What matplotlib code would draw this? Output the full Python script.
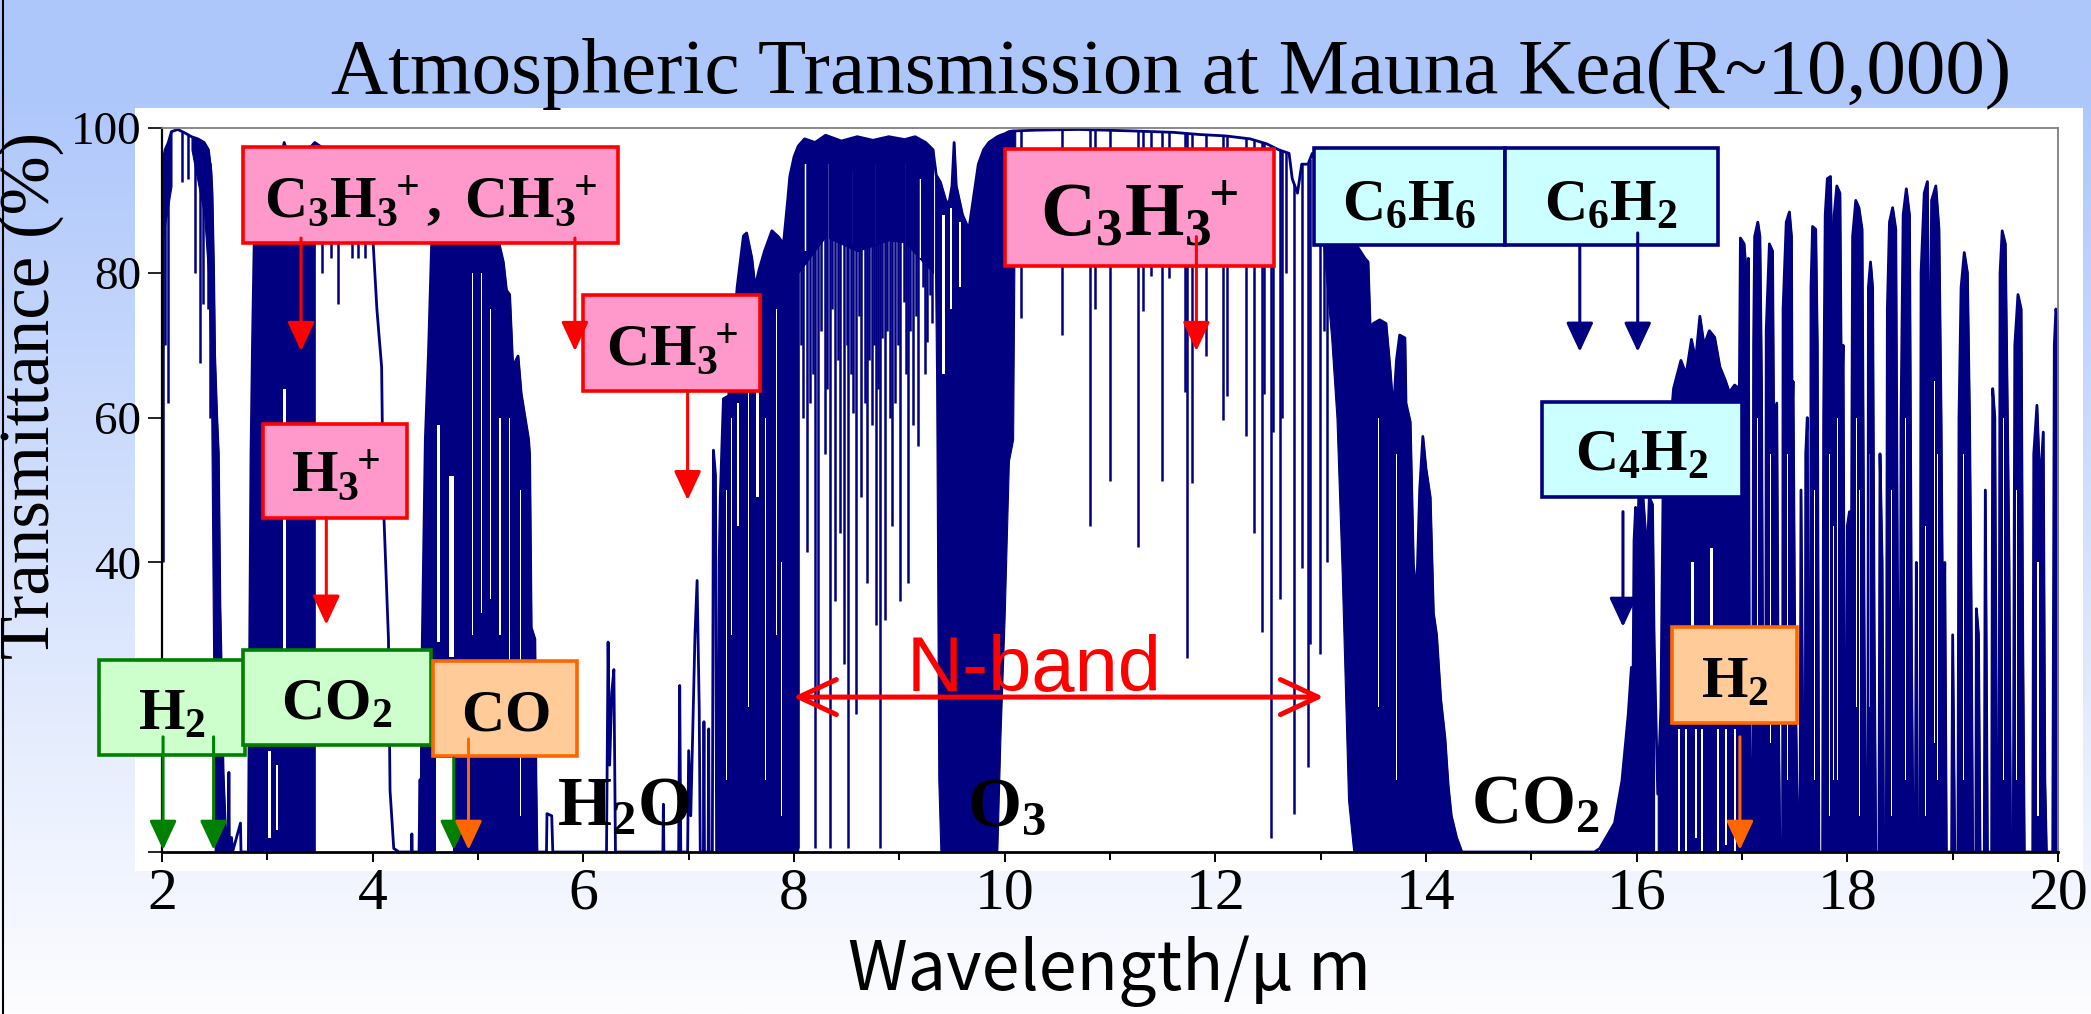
import numpy as np
import matplotlib
matplotlib.use('Agg')
import matplotlib.pyplot as plt
from matplotlib.patches import Rectangle, FancyArrowPatch
from matplotlib.lines import Line2D

plt.rcParams['font.family'] = ['Liberation Serif', 'DejaVu Serif']
plt.rcParams['mathtext.fontset'] = 'custom'
plt.rcParams['mathtext.rm'] = 'Liberation Serif'
plt.rcParams['mathtext.it'] = 'Liberation Serif:italic'
plt.rcParams['mathtext.bf'] = 'Liberation Serif:bold'

NAVY = '#000080'

# ---------------- spectrum silhouette: (wavelength um, transmittance %) ----------------
trans_2_to_2p8 = [(2.000, 50), (2.004, 95), (2.03, 97), (2.06, 98), (2.09, 99.5), (2.15, 99.8),
                  (2.22, 99.3), (2.28, 98.8), (2.34, 98.5), (2.40, 98), (2.44, 97), (2.465, 94),
                  (2.475, 91), (2.49, 80), (2.50, 68.5), (2.52, 60), (2.535, 55), (2.55, 34),
                  (2.57, 20), (2.58, 11), (2.60, 4), (2.615, 0.5), (2.63, 0), (2.635, 11),
                  (2.64, 0), (2.66, 2), (2.67, 0), (2.745, 4), (2.75, 0), (2.82, 0)]
trans_2p8_to_4p5 = [(2.83, 23), (2.845, 55), (2.86, 71), (2.875, 84), (2.92, 90), (3.0, 92),
                    (3.1, 94), (3.16, 98), (3.2, 96), (3.3, 96.5), (3.42, 97.5), (3.45, 98),
                    (3.55, 97), (3.65, 96), (3.75, 95), (3.85, 92), (3.95, 88), (4.005, 84),
                    (4.04, 75), (4.085, 67), (4.10, 49), (4.15, 29.4), (4.165, 8.5), (4.20, 0.5),
                    (4.25, 0), (4.37, 0), (4.372, 2.5), (4.375, 0), (4.44, 0), (4.45, 10), (4.455, 0)]
trans_4p5_to_7p3 = [(4.46, 0), (4.465, 23), (4.48, 38), (4.50, 57), (4.53, 69), (4.56, 84),
                    (4.65, 88), (4.8, 90), (5.0, 89), (5.1, 86), (5.2, 84), (5.24, 81.5),
                    (5.27, 77.6), (5.30, 77), (5.33, 67), (5.38, 68.5), (5.41, 63.3), (5.48, 57),
                    (5.49, 54.8), (5.505, 31), (5.54, 29.4), (5.55, 10), (5.56, 0), (5.65, 0),
                    (5.655, 5.3), (5.70, 5), (5.71, 0), (6.22, 0), (6.235, 29), (6.25, 12),
                    (6.27, 22), (6.29, 25.2), (6.305, 0), (6.755, 0), (6.76, 6.6), (6.765, 0),
                    (6.905, 0), (6.915, 23), (6.925, 0), (6.99, 0), (7.0, 14), (7.02, 5),
                    (7.06, 30), (7.08, 37.5), (7.10, 20), (7.11, 0), (7.14, 0), (7.145, 18),
                    (7.15, 0), (7.185, 0), (7.19, 17), (7.195, 0), (7.225, 0), (7.235, 55.5),
                    (7.255, 52), (7.265, 0)]
trans_7p3_to_10p1 = [(7.28, 0), (7.29, 40), (7.30, 49), (7.33, 62.6), (7.38, 63), (7.42, 70),
                     (7.46, 78), (7.52, 85.1), (7.55, 85.5), (7.60, 82), (7.63, 78), (7.67, 80.5),
                     (7.72, 83), (7.79, 85.8), (7.85, 85), (7.90, 84), (7.94, 90), (7.96, 93.3),
                     (8.0, 96), (8.04, 97.5), (8.1, 98.5), (8.2, 98), (8.3, 99), (8.45, 98.2),
                     (8.6, 98.8), (8.75, 98.3), (8.9, 98.8), (9.05, 98.4), (9.15, 98.8), (9.25, 98),
                     (9.32, 97), (9.34, 94.6), (9.35, 93.5), (9.37, 93), (9.39, 92.5), (9.40, 92),
                     (9.44, 90), (9.47, 89.5), (9.50, 92), (9.52, 98), (9.54, 92), (9.60, 88),
                     (9.66, 86), (9.70, 90), (9.75, 95), (9.80, 97), (9.85, 98), (9.93, 98.8),
                     (9.96, 99), (10.0, 99.2), (10.04, 99.5), (10.08, 99.6), (10.10, 99.6)]
trans_10p1_to_13 = [(10.3, 99.7), (10.7, 99.8), (11.2, 99.6), (11.6, 99.4), (11.85, 99.1),
                    (12.1, 98.9), (12.33, 98.5), (12.49, 97.8), (12.6, 97), (12.7, 96.5),
                    (12.73, 93), (12.78, 91), (12.82, 95), (12.88, 95), (12.92, 96.5), (12.96, 95)]
trans_13_to_16p2 = [(13.0, 92), (13.1, 88), (13.15, 87), (13.2, 86), (13.23, 85.5), (13.26, 85),
                    (13.31, 84.5), (13.42, 82), (13.45, 81.5), (13.47, 72.4), (13.5, 73),
                    (13.56, 73.5), (13.62, 73), (13.66, 66.5), (13.69, 60.7), (13.72, 68),
                    (13.75, 71.4), (13.80, 71), (13.81, 62), (13.85, 59.4), (13.88, 39.8),
                    (13.91, 35), (13.94, 50), (13.97, 57.4), (14.0, 52.9), (14.04, 49), (14.07, 33),
                    (14.10, 30), (14.14, 21), (14.18, 15.7), (14.21, 9.2), (14.24, 5), (14.29, 2),
                    (14.34, 0), (15.60, 0), (15.65, 0.5), (15.71, 2), (15.79, 4), (15.86, 9.8),
                    (15.89, 14.4), (15.92, 19), (15.95, 25.5), (15.965, 22), (15.975, 43),
                    (15.99, 47.6), (16.0, 40), (16.02, 49), (16.06, 49), (16.08, 45), (16.10, 40),
                    (16.12, 49), (16.15, 48), (16.165, 30), (16.2, 8)]
trans_16p2_to_17 = [(16.23, 20), (16.25, 49), (16.30, 55), (16.35, 64), (16.42, 67.9), (16.47, 66),
                    (16.52, 70.8), (16.56, 68), (16.60, 74), (16.64, 70), (16.69, 72),
                    (16.74, 71.1), (16.79, 67), (16.84, 65.2), (16.88, 63.5), (16.93, 64.5),
                    (16.975, 64), (16.985, 84.8), (17.02, 84), (17.04, 80)]
trans_17_to_20 = [(17.05, 40), (17.06, 82), (17.07, 20), (17.085, 0), (17.10, 0), (17.11, 70),
                  (17.12, 85), (17.15, 87), (17.17, 85), (17.185, 65), (17.195, 30), (17.21, 0),
                  (17.225, 0), (17.23, 72), (17.26, 84), (17.29, 83), (17.30, 60), (17.33, 62),
                  (17.345, 20), (17.36, 0), (17.385, 0), (17.39, 75), (17.42, 87), (17.45, 88.4),
                  (17.47, 85), (17.475, 60), (17.485, 65), (17.50, 30), (17.52, 10), (17.535, 0),
                  (17.55, 0), (17.56, 50), (17.585, 0), (17.60, 0), (17.605, 55), (17.62, 60),
                  (17.635, 0), (17.65, 0), (17.655, 78), (17.67, 86.4), (17.70, 86), (17.715, 70),
                  (17.73, 0), (17.765, 0), (17.775, 60), (17.79, 88), (17.81, 93), (17.84, 93.3),
                  (17.86, 75), (17.875, 88), (17.90, 92), (17.93, 91), (17.945, 60), (17.96, 70),
                  (17.975, 5), (17.99, 0), (18.0, 45), (18.02, 47), (18.04, 45), (18.05, 85),
                  (18.08, 90), (18.11, 89), (18.14, 86), (18.16, 30), (18.175, 0), (18.195, 0),
                  (18.20, 78), (18.22, 81.5), (18.24, 78), (18.255, 30), (18.27, 0), (18.30, 0),
                  (18.31, 55), (18.33, 40), (18.345, 0), (18.37, 0), (18.38, 75), (18.40, 87),
                  (18.43, 89), (18.46, 86), (18.475, 40), (18.49, 15.7), (18.50, 0), (18.51, 60),
                  (18.53, 88), (18.56, 91.6), (18.59, 88), (18.61, 26), (18.625, 0), (18.645, 0),
                  (18.655, 40), (18.665, 0), (18.69, 0), (18.70, 80), (18.73, 91), (18.76, 92.6),
                  (18.78, 53), (18.80, 90), (18.84, 92), (18.87, 86), (18.89, 60), (18.91, 21),
                  (18.925, 40), (18.94, 0), (18.99, 0), (19.0, 30), (19.02, 0), (19.05, 0),
                  (19.06, 60), (19.08, 78), (19.11, 82.8), (19.14, 80), (19.16, 60), (19.175, 35),
                  (19.19, 0), (19.22, 0), (19.225, 33.6), (19.245, 30), (19.26, 0), (19.30, 0),
                  (19.31, 50), (19.33, 0), (19.37, 0), (19.38, 64), (19.40, 60), (19.42, 0),
                  (19.44, 0), (19.45, 80), (19.47, 85.8), (19.50, 84), (19.52, 60), (19.535, 40),
                  (19.55, 0), (19.575, 0), (19.59, 70), (19.62, 77), (19.65, 75), (19.665, 30),
                  (19.68, 0), (19.76, 0), (19.77, 55), (19.80, 61.7), (19.83, 50), (19.86, 58),
                  (19.875, 10), (19.89, 0), (19.95, 0), (19.965, 70), (19.98, 75), (20.0, 73)]

# dense (solid) absorption regions: start, end, lower-floor knots
band_start = [2.0, 2.28, 2.83, 4.46, 7.28, 8.04, 9.33, 13.0, 15.65, 16.2, 17.04]
band_end = [2.09, 2.62, 3.45, 5.56, 8.04, 9.32, 10.10, 14.34, 16.165, 17.04, 20.0]
band_floor_wl = [[2.0, 2.09], [2.28, 2.40, 2.46, 2.50, 2.62], [2.83, 3.45], [4.46, 5.56],
                 [7.28, 8.04], [8.04, 8.3, 8.6, 9.0, 9.32],
                 [9.33, 9.35, 9.37, 9.39, 9.93, 9.96, 10.0, 10.04, 10.08, 10.10],
                 [13.0, 13.1, 13.15, 13.2, 13.23, 13.26, 13.31, 14.34], [15.65, 16.165],
                 [16.2, 17.04], [17.04, 20.0]]
band_floor_T = [[84, 92], [97, 88, 75, 0, 0], [0, 0], [0, 0], [0, 0], [80, 85, 83, 85, 80],
                [94, 64.6, 10, 0, 0, 16, 32.6, 54, 57, 97],
                [88, 71, 60, 38.5, 22.9, 7.2, 0, 0], [0, 0], [0, 0], [0, 0]]

# transparent slits inside dense regions
gap_wl = [3.165, 3.02, 3.09, 4.625, 4.75, 4.68, 4.95, 5.03, 5.12, 5.21, 5.30, 5.40,
          7.36, 7.41, 7.47, 7.57, 7.655, 7.73, 7.83, 7.88,
          9.42, 9.49, 9.58, 8.11, 8.32, 8.55, 8.78, 9.05, 9.2,
          13.55, 13.72,
          16.53, 16.71, 16.40, 16.47, 16.56, 16.62, 16.77, 16.85, 16.93,
          17.15, 17.27, 17.43, 17.685, 17.83, 17.87, 17.91, 18.09, 18.12, 18.21, 18.42, 18.55,
          18.74, 18.83, 18.86, 19.10, 19.48, 19.61, 19.81]
gap_w = [0.03, 0.025, 0.02, 0.035, 0.05, 0.16, 0.01, 0.012, 0.01, 0.015, 0.01, 0.01,
         0.01, 0.01, 0.02, 0.01, 0.03, 0.01, 0.01, 0.01,
         0.03, 0.02, 0.02, 0.025, 0.02, 0.02, 0.02, 0.02, 0.02,
         0.008, 0.008,
         0.03, 0.02, 0.02, 0.02, 0.02, 0.015, 0.02, 0.02, 0.02,
         0.012, 0.01, 0.012, 0.01, 0.012, 0.01, 0.012, 0.012, 0.01, 0.01, 0.012, 0.012,
         0.012, 0.012, 0.01, 0.012, 0.012, 0.01, 0.01]
gap_lo = [28, 2, 3, 29, 27, 0, 30, 33, 35, 30, 20, 5,
          10, 30, 45, 20, 49, 10, 30, 5,
          66, 75, 78, 83, 84, 84, 84, 84, 82,
          20, 10,
          31, 31, 0, 0, 2, 0, 0, 1, 0,
          20, 15, 10, 10, 5, 10, 10, 20, 5, 20, 5, 10,
          5, 15, 10, 10, 10, 10, 5]
gap_hi = [64, 14, 12, 59, 52, 13, 80, 80, 75, 60, 60, 50,
          50, 60, 62, 70, 77, 60, 75, 40,
          88, 89, 87, 95, 95, 94, 95, 95, 93,
          60, 55,
          40, 42, 17, 17, 17, 17, 17, 17, 17,
          60, 55, 55, 50, 55, 45, 60, 60, 50, 55, 50, 60,
          45, 65, 55, 55, 60, 50, 40]

# individual absorption lines: wavelength and minimum transmittance
line_wl = [2.01, 2.03, 2.06, 2.19, 2.25, 2.31, 2.36, 2.39, 2.44, 2.455,
           3.52, 3.60, 3.67, 3.80, 3.86, 3.93,
           8.0, 8.04, 8.07, 8.09, 8.12, 8.15, 8.18, 8.20, 8.23, 8.26, 8.29, 8.31, 8.34, 8.36,
           8.39, 8.42, 8.44, 8.47, 8.50, 8.515, 8.54, 8.56, 8.59, 8.62, 8.64, 8.67, 8.69, 8.71,
           8.74, 8.76, 8.78, 8.80, 8.82, 8.84, 8.86, 8.88, 8.91, 8.93, 8.96, 8.99, 9.01, 9.04,
           9.06, 9.08, 9.10, 9.13, 9.16, 9.18, 9.22, 9.24, 9.26, 9.29, 9.31,
           10.154, 10.54, 10.81, 10.86, 11.0, 11.27, 11.315, 11.39, 11.49, 11.56, 11.71, 11.73,
           11.78, 11.91, 12.07, 12.11, 12.29, 12.37, 12.44, 12.46, 12.53, 12.55, 12.61, 12.63,
           12.67, 12.75, 12.82, 12.88, 12.90, 12.99, 13.03, 13.06]
line_T = [40, 70, 62, 92.6, 93, 80, 67.5, 75.7, 75, 60,
          80, 82, 75.7, 82, 82, 82,
          35, 0.5, 70, 60, 41.5, 62, 66, 0.5, 20, 72, 55, 64, 0.5, 75,
          34.6, 68, 44, 26, 70, 0.5, 66, 60.7, 19, 74, 49, 62, 37.2, 68,
          59, 70, 31.3, 64, 0.5, 71, 32, 72, 60, 45, 62, 70, 34.6, 76,
          66, 37.2, 72, 59, 74, 56.1, 78, 66, 70.5, 77, 73,
          73.7, 71.4, 45, 75, 51.2, 42.1, 74.7, 79.6, 51.2, 79.3, 63.6, 26.8,
          50.9, 68.5, 59.7, 63, 57.4, 44.1, 30.4, 63.3, 2, 58, 35, 60,
          80, 5.3, 39.2, 11.8, 28.7, 27.4, 72, 40]

# ---------------- annotation boxes ----------------
box_text = [r'$\mathbf{C_3H_3{}^{\!\!+},\ CH_3{}^{\!\!+}}$', r'$\mathbf{CH_3{}^{\!\!+}}$',
            r'$\mathbf{H_3{}^{\!\!+}}$', r'$\mathbf{C_3H_3{}^{\!\!+}}$', r'$\mathbf{C_6H_6}$',
            r'$\mathbf{C_6H_2}$', r'$\mathbf{C_4H_2}$', r'$\mathbf{H_2}$', r'$\mathbf{CO_2}$',
            r'$\mathbf{CO}$', r'$\mathbf{H_2}$']
box_x0 = [2.77, 6.00, 2.96, 10.00, 12.94, 14.75, 15.10, 1.40, 2.77, 4.57, 16.34]
box_x1 = [6.33, 7.68, 4.33, 12.555, 14.75, 16.77, 17.00, 2.79, 4.55, 5.94, 17.52]
box_y0 = [84.1, 63.7, 46.2, 80.9, 83.8, 83.8, 49.1, 13.4, 14.8, 13.3, 17.8]
box_y1 = [97.4, 76.9, 59.1, 97.1, 97.2, 97.2, 62.2, 26.5, 27.9, 26.4, 31.1]
box_kind = ['pink', 'pink', 'pink', 'pink', 'cyan', 'cyan', 'cyan', 'green', 'green', 'orange', 'orange']
box_fontsize = [43, 43, 43, 55, 43, 43, 43, 43, 43, 43, 43]
box_styles = {'pink': ('#ff99cc', '#ff0000'), 'cyan': ('#ccffff', '#000080'),
              'green': ('#ccffcc', '#008000'), 'orange': ('#ffcc99', '#ff6600')}

# arrows: x position, start and tip transmittance, colour
arrow_x = [3.32, 5.92, 6.99, 3.56, 11.82, 15.46, 16.01, 15.87, 2.01, 2.49, 4.77, 4.91, 16.98]
arrow_y0 = [84.8, 84.8, 63.7, 46.2, 85.0, 83.8, 85.5, 47.0, 15.9, 15.9, 13.0, 15.6, 15.9]
arrow_y1 = [69.2, 69.2, 48.6, 31.4, 69.2, 69.1, 69.1, 31.1, 0.3, 0.3, 0.3, 0.3, 0.3]
arrow_color = ['#ff0000'] * 5 + ['#000080'] * 3 + ['#008000'] * 3 + ['#ff6600'] * 2

# molecule labels under the spectrum
mol_text = [r'$\mathbf{H_2O}$', r'$\mathbf{O_3}$', r'$\mathbf{CO_2}$']
mol_x = [5.75, 9.64, 14.43]
mol_y = [3.7, 3.7, 3.9]

# N-band range
nband_x = [7.99, 13.03]
nband_y = 21.4

xticks = [2, 4, 6, 8, 10, 12, 14, 16, 18, 20]
yticks = [0, 20, 40, 60, 80, 100]
ytick_labels = ['', '', '40', '60', '80', '100']

# ---------------- assemble ----------------
spectrum = (trans_2_to_2p8 + trans_2p8_to_4p5 + trans_4p5_to_7p3 + trans_7p3_to_10p1 +
            trans_10p1_to_13 + trans_13_to_16p2 + trans_16p2_to_17 + trans_17_to_20)
spec_wl = np.array([p[0] for p in spectrum])
spec_T = np.array([p[1] for p in spectrum])

W, H = 2091, 1014
fig = plt.figure(figsize=(W / 100, H / 100), dpi=100)

# background gradient
bg = fig.add_axes([0, 0, 1, 1], zorder=-10)
yy = np.linspace(0, 1, 400)  # 0 = top
top_c = np.array([0xae, 0xc7, 0xfb]) / 255.0
bot_c = np.array([0xfd, 0xfd, 0xff]) / 255.0
t = np.clip((yy - 0.09) / 0.91, 0, 1)[:, None]
grad = (top_c * (1 - t) + bot_c * t)[:, None, :]
bg.imshow(grad, extent=[0, 1, 0, 1], aspect='auto', origin='upper')
bg.add_patch(Rectangle((135 / W, 1 - 871 / H), (2083 - 135) / W, (871 - 108) / H,
                       transform=bg.transAxes, facecolor='white', edgecolor='none', zorder=2))
bg.add_line(Line2D([3 / W, 3 / W], [0, 1], transform=bg.transAxes, color='black', lw=1.5, zorder=3))
bg.set_xlim(0, 1); bg.set_ylim(0, 1)
bg.axis('off')

ax = fig.add_axes([162 / W, 1 - 852 / H, (2058 - 162) / W, (852 - 128) / H])
ax.set_facecolor('white')

# dense regions
for s, e, fw, ft in zip(band_start, band_end, band_floor_wl, band_floor_T):
    m = (spec_wl >= s - 1e-9) & (spec_wl <= e + 1e-9)
    x = spec_wl[m]
    hi = spec_T[m]
    lo = np.interp(x, fw, ft)
    ax.fill_between(x, lo, np.maximum(hi, lo), color=NAVY, lw=0.8, zorder=2)

# transparent slits
ax.bar(gap_wl, np.array(gap_hi) - np.array(gap_lo), bottom=gap_lo, width=gap_w,
       color='white', edgecolor='none', zorder=2.2)

# single lines
line_top = np.interp(line_wl, spec_wl, spec_T)
ax.vlines(line_wl, line_T, line_top, color=NAVY, lw=1.8, zorder=2.4)

# silhouette
ax.plot(spec_wl, spec_T, color=NAVY, lw=2.0, zorder=2.5)

ax.set_xlim(2, 20)
ax.set_ylim(0, 100)
ax.set_xticks(xticks)
ax.set_xticks(np.arange(3, 20, 2), minor=True)
ax.set_xticklabels([str(v) for v in xticks])
ax.set_yticks(yticks)
ax.set_yticklabels(ytick_labels)
ax.tick_params(axis='x', which='major', length=7.5, width=1.4, direction='out', labelsize=43,
               pad=4, colors='black')
ax.tick_params(axis='x', which='minor', length=6, width=1.4, direction='out')
ax.tick_params(axis='y', which='major', length=10, width=1.2, direction='out', labelsize=34, pad=5)
for lab in ax.get_xticklabels() + ax.get_yticklabels():
    lab.set_family('Liberation Serif')
for sp in ['top', 'right']:
    ax.spines[sp].set_color('#808080')
    ax.spines[sp].set_linewidth(1.3)
ax.spines['left'].set_linewidth(1.6)
ax.spines['bottom'].set_linewidth(2.0)
for sp in ax.spines.values():
    sp.set_zorder(3)

# boxes
for txt, x0, x1, y0, y1, kind, fs in zip(box_text, box_x0, box_x1, box_y0, box_y1, box_kind, box_fontsize):
    fc, ec = box_styles[kind]
    ax.add_patch(Rectangle((x0, y0), x1 - x0, y1 - y0, facecolor=fc, edgecolor=ec, lw=2.6,
                           clip_on=False, zorder=6))
    base = y0 + (4.2 if fs > 50 else 3.5)
    ax.text((x0 + x1) / 2, base, txt, fontsize=fs, ha='center', va='baseline', color='black',
            zorder=7, clip_on=False)

# arrows
for xa, ya, yb, c in zip(arrow_x, arrow_y0, arrow_y1, arrow_color):
    ax.add_patch(FancyArrowPatch((xa, ya), (xa, yb),
                                 arrowstyle='-|>,head_length=0.9,head_width=0.42',
                                 mutation_scale=20, lw=2.2, color=c, shrinkA=0, shrinkB=0,
                                 clip_on=False, zorder=8))

# molecule labels
for txt, x, y in zip(mol_text, mol_x, mol_y):
    ax.text(x, y, txt, fontsize=50, ha='left', va='baseline', color='black', zorder=5)

# N-band
ax.add_patch(FancyArrowPatch((nband_x[0], nband_y), (nband_x[1], nband_y),
                             arrowstyle='<->,head_length=0.9,head_width=0.42', mutation_scale=30,
                             lw=3.6, color='#ff0000', shrinkA=0, shrinkB=0, zorder=8))
ax.text(10.28, nband_y + 0.9, 'N-band', fontsize=56, family='Liberation Sans', color='#ff0000',
        ha='center', va='baseline', zorder=8)

# titles / labels
fig.text(1171 / W, 1 - 93 / H, 'Atmospheric Transmission at Mauna Kea(R~10,000)',
         fontsize=57, family='Liberation Serif', ha='center', va='baseline')
fig.text(1109 / W, 1 - 990 / H, 'Wavelength/μ m', fontsize=49,
         family=['Noto Sans CJK JP', 'DejaVu Sans'], ha='center', va='baseline')
fig.text(31 / W, 1 - 395 / H, 'Transmittance (%)', fontsize=51, family='Liberation Serif',
         rotation=90, ha='center', va='center')

fig.savefig('out.png', dpi=100)
